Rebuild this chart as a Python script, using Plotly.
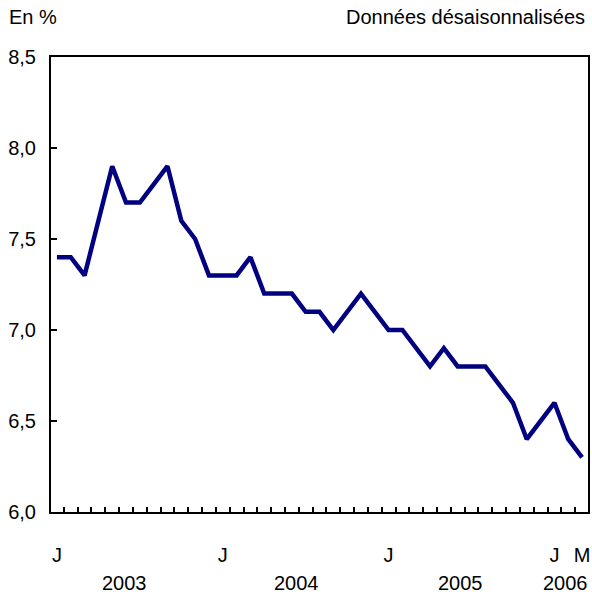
import plotly.graph_objects as go

values_2003 = [7.4, 7.4, 7.3, 7.6, 7.9, 7.7, 7.7, 7.8, 7.9, 7.6, 7.5, 7.3]
values_2004 = [7.3, 7.3, 7.4, 7.2, 7.2, 7.2, 7.1, 7.1, 7.0, 7.1, 7.2, 7.1]
values_2005 = [7.0, 7.0, 6.9, 6.8, 6.9, 6.8, 6.8, 6.8, 6.7, 6.6, 6.4, 6.5]
values_2006 = [6.6, 6.4, 6.3]
values = values_2003 + values_2004 + values_2005 + values_2006
months = list(range(len(values)))

x_tickvals = [0, 12, 24, 36, 38]
x_ticktext = ["J", "J", "J", "J", "M"]
year_labels = ["2003", "2004", "2005", "2006"]
year_pos = [4.9, 17.3, 29.2, 36.8]
y_tickvals = [6.0, 6.5, 7.0, 7.5, 8.0, 8.5]
y_ticktext = ["6,0", "6,5", "7,0", "7,5", "8,0", "8,5"]

FONT = "Liberation Sans, Arial, Helvetica, sans-serif"
FS = 20

W, H = 592, 594
L, R, T, B = 51, 2, 57, 82
PW, PH = W - L - R, H - T - B

fig = go.Figure()
fig.add_trace(go.Scatter(x=months, y=values, mode="lines",
                         line=dict(color="#000080", width=4.5),
                         hoverinfo="skip", showlegend=False))

fig.update_layout(
    width=W, height=H,
    margin=dict(l=L, r=R, t=T, b=B),
    paper_bgcolor="white", plot_bgcolor="white",
    font=dict(family=FONT, size=FS, color="black"),
    xaxis=dict(range=[-0.43, 38.43], showgrid=False, zeroline=False,
               showline=True, linecolor="black", linewidth=2, mirror=True,
               tickmode="array", tickvals=x_tickvals, ticktext=x_ticktext,
               ticks="", ticklabelstandoff=24,
               minor=dict(dtick=1, tick0=0.5, ticks="inside", ticklen=5,
                          tickwidth=1.5, tickcolor="black", showgrid=False)),
    yaxis=dict(range=[6.0, 8.5], showgrid=False, zeroline=False,
               showline=True, linecolor="black", linewidth=2, mirror=True,
               tickmode="array", tickvals=y_tickvals, ticktext=y_ticktext,
               ticks="inside", ticklen=6, tickwidth=1.5, tickcolor="black",
               ticklabelstandoff=9),
)

def px_to_paper(px, py):
    return (px - L) / PW, (H - py - B) / PH

for lab, pos in zip(year_labels, year_pos):
    _, yy = px_to_paper(0, 583)
    fig.add_annotation(x=pos, y=yy, xref="x", yref="paper", text=lab,
                       showarrow=False, xanchor="center", yanchor="middle",
                       font=dict(size=FS))

xx, yy = px_to_paper(7, 17)
fig.add_annotation(x=xx, y=yy, xref="paper", yref="paper",
                   text="En %", showarrow=False, xanchor="left",
                   yanchor="middle", font=dict(size=FS))
xx, yy = px_to_paper(589, 17)
fig.add_annotation(x=xx, y=yy, xref="paper", yref="paper",
                   text="Données désaisonnalisées", showarrow=False,
                   xanchor="right", yanchor="middle", font=dict(size=FS))

fig.write_html("out.html", config={"displayModeBar": False},
               post_script="document.body.style.margin='0px';document.body.style.overflow='hidden';")
